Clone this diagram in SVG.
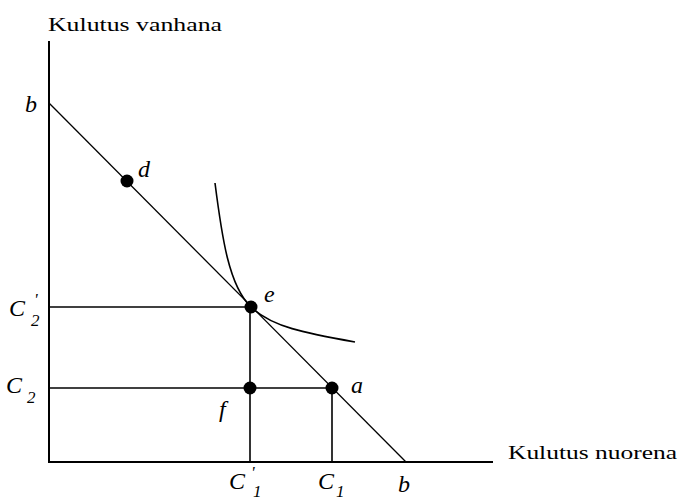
<svg xmlns="http://www.w3.org/2000/svg" width="679" height="502" viewBox="0 0 679 502">
<style>
.ax{stroke:#000;stroke-width:2;fill:none}
.ln{stroke:#000;stroke-width:1.6;fill:none}
.dg{stroke:#000;stroke-width:1.3;fill:none}
.t{font-family:"Liberation Serif",serif;font-size:19px;fill:#000}
.i{font-family:"Liberation Serif",serif;font-style:italic;font-size:24px;fill:#000}
.s{font-family:"Liberation Serif",serif;font-style:italic;font-size:17px;fill:#000}
.dot{fill:#000}
</style>
<g id="connectors">
<path class="ax" d="M49,41 V462 H493"/>
<path class="dg" d="M49,103 L406,462"/>
<path class="ln" d="M49,307 H251"/>
<path class="ln" d="M49,388 H332"/>
<path class="ln" d="M250,307 V462"/>
<path class="ln" d="M332,388 V462"/>
<path class="ln" d="M215,183 C222,238 229,286 251,307 C272,327 305,333 355,342"/>
</g>
<g id="axis-y-label"><text class="t" x="48" y="31" textLength="174" lengthAdjust="spacingAndGlyphs">Kulutus vanhana</text></g>
<g id="axis-x-label"><text class="t" x="508" y="459" textLength="169" lengthAdjust="spacingAndGlyphs">Kulutus nuorena</text></g>
<g id="b-top"><text class="i" x="25" y="112">b</text></g>
<g id="b-bottom"><text class="i" x="398" y="492">b</text></g>
<g id="C2p"><text class="i" x="9" y="316">C</text><text class="s" x="34" y="305">'</text><text class="s" x="31" y="326">2</text></g>
<g id="C2"><text class="i" x="6" y="393">C</text><text class="s" x="27" y="403">2</text></g>
<g id="C1p"><text class="i" x="229" y="489">C</text><text class="s" x="251" y="478">'</text><text class="s" x="253" y="497">1</text></g>
<g id="C1"><text class="i" x="318" y="489">C</text><text class="s" x="336" y="497">1</text></g>
<g id="node-d"><circle class="dot" cx="127" cy="181" r="6.5"/><text class="i" x="138" y="177">d</text></g>
<g id="node-e"><circle class="dot" cx="251" cy="307" r="6.5"/><text class="i" x="264" y="302">e</text></g>
<g id="node-f"><circle class="dot" cx="250" cy="388" r="6.5"/><text class="i" x="219" y="417">f</text></g>
<g id="node-a"><circle class="dot" cx="332" cy="388" r="6.5"/><text class="i" x="351" y="393">a</text></g>
</svg>
